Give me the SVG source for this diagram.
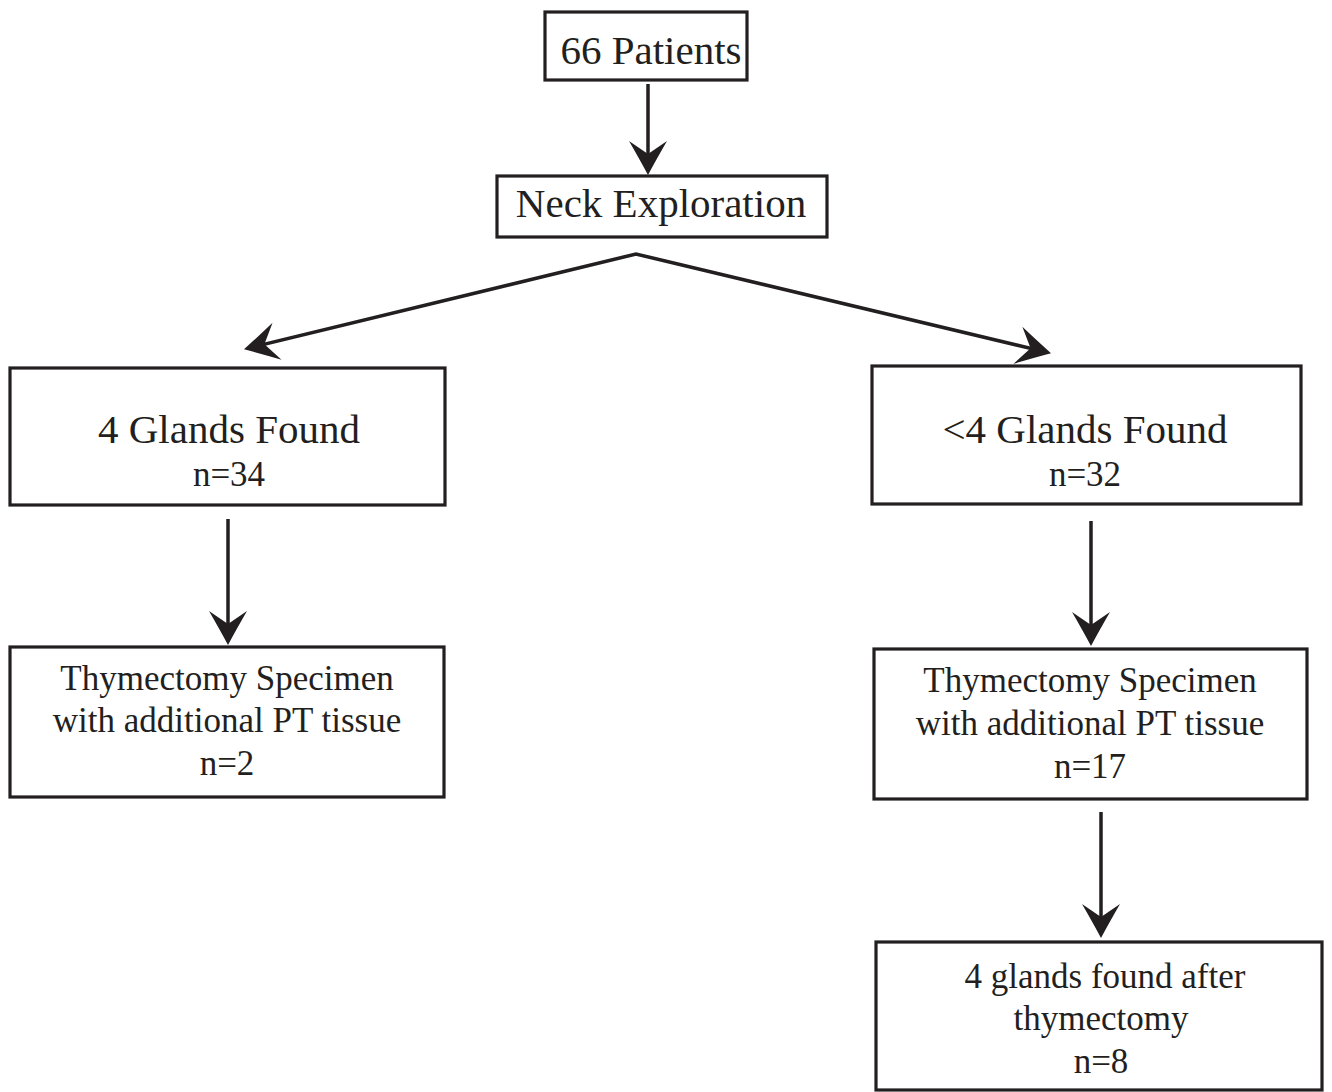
<svg xmlns="http://www.w3.org/2000/svg" width="1332" height="1092" viewBox="0 0 1332 1092">
<style>
.box{fill:#fff;stroke:#231f20;stroke-width:3.2}
.t{font-family:"Liberation Serif","Times New Roman",serif;fill:#231f20;text-anchor:middle}
.big{font-size:41px}
.sm{font-size:35px}
.c{fill:none;stroke:#231f20;stroke-width:3.5}
</style>
<defs>
<marker id="ah" markerUnits="userSpaceOnUse" markerWidth="38" markerHeight="40" viewBox="0 -20 38 40" refX="28" refY="0" orient="auto-start-reverse">
<path d="M35,0 Q20,-8 1,-19 L14,0 L1,19 Q20,8 35,0 Z" fill="#231f20"/>
</marker>
</defs>
<rect width="1332" height="1092" fill="#fff"/>
<g id="connectors">
<line class="c" x1="648" y1="84" x2="648" y2="168" marker-end="url(#ah)"/>
<path class="c" d="M250.8,347.6 L636,254 L1044.2,351.6" marker-start="url(#ah)" marker-end="url(#ah)"/>
<line class="c" x1="228" y1="519" x2="228" y2="638" marker-end="url(#ah)"/>
<line class="c" x1="1091" y1="521" x2="1091" y2="639" marker-end="url(#ah)"/>
<line class="c" x1="1101" y1="812" x2="1101" y2="931" marker-end="url(#ah)"/>
</g>
<g id="patients">
<rect class="box" x="545" y="12" width="202" height="68"/>
<text class="t big" x="651" y="64">66 Patients</text>
</g>
<g id="neck">
<rect class="box" x="497" y="176" width="330" height="61"/>
<text class="t big" x="661" y="217">Neck Exploration</text>
</g>
<g id="four">
<rect class="box" x="10" y="368" width="435" height="137"/>
<text class="t big" x="229" y="443">4 Glands Found</text>
<text class="t sm" x="229" y="486">n=34</text>
</g>
<g id="lessfour">
<rect class="box" x="872" y="366" width="429" height="138"/>
<text class="t big" x="1085" y="443">&lt;4 Glands Found</text>
<text class="t sm" x="1085" y="486">n=32</text>
</g>
<g id="thymL">
<rect class="box" x="10" y="647" width="434" height="150"/>
<text class="t sm" x="227" y="690">Thymectomy Specimen</text>
<text class="t sm" x="227" y="732">with additional PT tissue</text>
<text class="t sm" x="227" y="775">n=2</text>
</g>
<g id="thymR">
<rect class="box" x="874" y="649" width="433" height="150"/>
<text class="t sm" x="1090" y="692">Thymectomy Specimen</text>
<text class="t sm" x="1090" y="735">with additional PT tissue</text>
<text class="t sm" x="1090" y="778">n=17</text>
</g>
<g id="after">
<rect class="box" x="876" y="942" width="446" height="148"/>
<text class="t sm" x="1105" y="988">4 glands found after</text>
<text class="t sm" x="1101" y="1030">thymectomy</text>
<text class="t sm" x="1101" y="1073">n=8</text>
</g>
</svg>
